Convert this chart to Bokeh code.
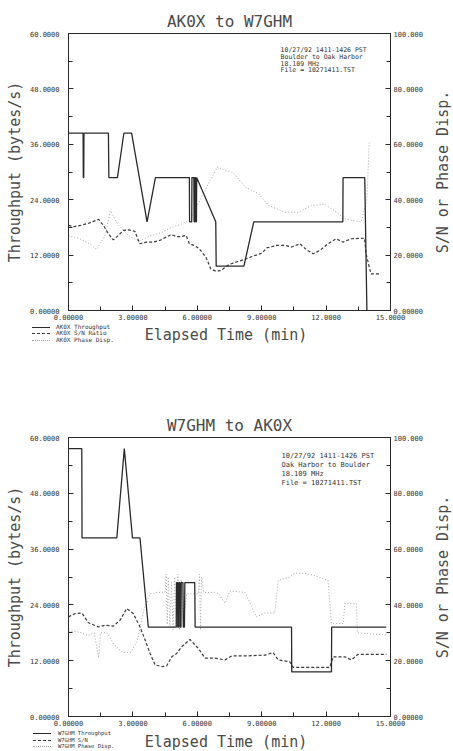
import math
from bokeh.plotting import figure
from bokeh.models import Range1d, LinearAxis, FixedTicker, ColumnDataSource, Div
from bokeh.layouts import column, row
from bokeh.embed import file_html
from bokeh.resources import INLINE
from bokeh.core.properties import value

# ---------------- data ----------------
x_ticks = [0, 3, 6, 9, 12, 15]
x_minor = [1.5, 4.5, 7.5, 10.5, 13.5]
x_labels = ["0.00000", "3.00000", "6.00000", "9.00000", "12.0000", "15.0000"]
left_ticks = [0, 12, 24, 36, 48, 60]
left_minor = [6, 18, 30, 42, 54]
left_labels = ["0.00000", "12.0000", "24.0000", "36.0000", "48.0000", "60.0000"]
right_ticks = [0, 20, 40, 60, 80, 100]
right_minor = [10, 30, 50, 70, 90]
right_labels = ["0.00000", "20.0000", "40.0000", "60.0000", "80.0000", "100.000"]
x_title = "Elapsed Time (min)"
left_title = "Throughput (bytes/s)"
right_title = "S/N or Phase Disp."

# Top chart: AK0X to W7GHM
top_title = "AK0X to W7GHM"
top_thr_t = [0.0, 0.68, 0.69, 0.71, 0.72, 1.86, 1.88, 2.28, 2.58, 2.94, 3.66, 4.05,
             5.63, 5.64, 5.74, 5.75, 5.84, 5.85, 5.87, 5.88, 5.92, 5.93, 5.96, 5.97,
             6.86, 6.88, 8.17, 8.63, 12.78, 12.79, 13.80, 13.90]
top_thr_v = [38.4, 38.4, 28.8, 28.8, 38.4, 38.4, 28.8, 28.8, 38.4, 38.4, 19.2, 28.8,
             28.8, 19.2, 19.2, 28.8, 28.8, 19.2, 19.2, 28.8, 28.8, 19.2, 19.2, 28.8,
             19.2, 9.6, 9.6, 19.2, 19.2, 28.8, 28.8, 0.0]
top_sn_t = [0.0, 0.25, 0.55, 0.94, 1.40, 1.63, 1.86, 2.09, 2.32, 2.55, 2.78, 3.09, 3.32,
            3.63, 3.94, 4.25, 4.55, 4.79, 5.02, 5.25, 5.48, 5.63, 5.86, 6.09, 6.40, 6.63,
            6.86, 7.09, 7.48, 7.94, 8.25, 8.55, 9.01, 9.24, 9.70, 10.09, 10.39, 10.78,
            11.09, 11.40, 11.71, 12.09, 12.47, 12.78, 13.17, 13.79, 13.86, 14.09, 14.48]
top_sn_v = [30.7, 30.3, 30.7, 31.5, 32.9, 30.7, 27.7, 25.5, 27.1, 28.9, 29.1, 28.6, 24.1,
            24.7, 24.7, 25.3, 26.5, 27.4, 26.7, 26.7, 27.1, 24.1, 23.5, 22.3, 19.3, 15.0,
            14.2, 14.4, 16.6, 17.8, 18.6, 19.5, 20.7, 22.6, 23.5, 23.5, 22.9, 24.1,
            21.9, 20.5, 21.7, 24.1, 25.9, 24.7, 25.9, 26.1, 20.5, 13.2, 13.2]
top_ph_t = [0.0, 0.5, 1.0, 1.3, 1.7, 1.95, 2.3, 2.8, 3.3, 3.8, 4.3, 4.8, 5.2, 5.7, 6.2,
            6.6, 6.94, 7.3, 7.65, 8.25, 8.86, 9.32, 10.09, 10.71, 11.32, 11.94, 12.4,
            12.86, 13.63, 13.9, 14.01]
top_ph_v = [27, 26, 24, 22, 27, 36, 31, 27, 25, 27, 28, 30, 31, 33, 41,
            47, 51.7, 50.5, 49.9, 44.5, 42.1, 37.9, 35.5, 35.5, 37.9, 38.3, 36,
            33.1, 31.9, 40, 61]
top_legend = ["AK0X Throughput", "AK0X S/N Ratio", "AK0X Phase Disp."]
top_note = ["10/27/92 1411-1426 PST", "Boulder to Oak Harbor", "18.109 MHz",
            "File = 10271411.TST"]

# Bottom chart: W7GHM to AK0X
bot_title = "W7GHM to AK0X"
bot_thr_t = [0.0, 0.62, 0.63, 2.25, 2.60, 2.98, 3.33, 3.72, 5.02, 5.03, 5.08, 5.09,
             5.13, 5.14, 5.19, 5.20, 5.24, 5.25, 5.33, 5.35, 5.40, 5.42, 5.88, 5.90,
             10.39, 10.40, 12.25, 12.26, 14.8]
bot_thr_v = [57.6, 57.6, 38.4, 38.4, 57.6, 38.4, 38.4, 19.2, 19.2, 28.8, 28.8, 19.2,
             19.2, 28.8, 28.8, 19.2, 19.2, 28.8, 28.8, 19.2, 19.2, 28.8, 28.8, 19.2,
             19.2, 9.6, 9.6, 19.2, 19.2]
bot_sn_t = [0.0, 0.31, 0.62, 0.93, 1.40, 1.71, 2.09, 2.40, 2.71, 3.02, 3.33, 3.57, 3.80,
            4.03, 4.34, 4.57, 4.81, 5.04, 5.27, 5.66, 6.05, 6.36, 6.82, 7.29, 7.60, 8.22,
            9.15, 9.53, 9.77, 10.31, 10.47, 12.17, 12.33, 12.87, 13.18, 13.49, 14.81]
bot_sn_v = [35.7, 36.9, 37.1, 33.6, 32.1, 32.7, 32.4, 34.5, 38.7, 36.9, 32.1, 27.4, 22.6,
            18.5, 17.9, 18.1, 21.4, 22.6, 25.0, 27.6, 24.4, 20.9, 20.9, 20.3, 21.7, 21.7,
            22.0, 22.9, 20.3, 19.6, 17.6, 17.6, 21.4, 21.4, 20.3, 22.3, 22.3]
bot_ph_t = [0.0, 0.3, 0.6, 0.9, 1.2, 1.4, 1.5, 1.8, 2.1, 2.5, 2.9, 3.2, 3.5, 3.8, 4.2,
            4.5, 4.55, 4.6, 4.65, 4.72, 4.8, 4.87, 4.95, 5.02, 5.1, 5.17, 5.25, 5.35,
            5.5, 5.8, 6.05, 6.1, 6.15, 6.2, 6.3, 6.8, 7.0, 7.29, 7.52, 8.22, 8.76, 9.15,
            9.61, 9.77, 10.31, 10.54, 11.01, 11.47, 12.09, 12.25, 12.8, 12.87, 13.41,
            13.46, 14.81]
bot_ph_v = [30.5, 30.5, 30.0, 29.0, 30.0, 21.0, 30.0, 30.0, 26.0, 23.0, 23.0, 27.0, 38.0,
            44.0, 44.5, 44.5, 51.0, 33.0, 50.0, 32.0, 48.0, 31.0, 50.0, 32.0, 51.0, 31.0,
            49.0, 33.0, 44.0, 44.0, 44.0, 51.0, 31.0, 50.0, 44.5, 44.5, 44.0, 40.5, 45.0,
            44.5, 35.7, 37.1, 37.1, 48.8, 50.0, 51.4, 51.3, 50.5, 48.8, 33.3, 33.3, 40.5,
            40.5, 30.0, 29.2]
bot_legend = ["W7GHM Throughput", "W7GHM S/N", "W7GHM Phase Disp."]
bot_note = ["10/27/92 1411-1426 PST", "Oak Harbor to Boulder", "18.109 MHz",
            "File = 10271411.TST"]

MONO = "DejaVu Sans Mono"
INK = "#2a2a2a"
TXT = "#4a4a4a"
W = 452          # total width of each block
PW = 426         # main plot width (frame 68..393)
SIDE = W - PW    # strip carrying the right-hand axis title

STY_THR = dict(line_color=INK, line_width=1.3)
STY_SN = dict(line_color="#3a3a3a", line_width=1.2, line_dash="3 2")
STY_PH = dict(line_color="#a8a8a8", line_width=1, line_dash="1 2")
CSS_KEY = ["1.3px solid #2a2a2a", "1.2px dashed #3a3a3a", "1px dotted #a0a0a0"]


def style_axis(ax, ticks, minor, labels):
    ax.ticker = FixedTicker(ticks=ticks, minor_ticks=minor)
    ax.major_label_overrides = {float(t): l for t, l in zip(ticks, labels)}
    ax.major_tick_in = 5
    ax.major_tick_out = 0
    ax.minor_tick_in = 4
    ax.minor_tick_out = 0
    ax.axis_line_color = INK
    ax.major_tick_line_color = INK
    ax.minor_tick_line_color = INK
    ax.major_label_text_font = MONO
    ax.major_label_text_font_size = "7px"
    ax.major_label_text_color = "#333333"
    ax.axis_label_text_font = MONO
    ax.axis_label_text_font_size = "15px"
    ax.axis_label_text_font_style = "normal"
    ax.axis_label_text_color = TXT


def make_panel(title, thr_t, thr_v, sn_t, sn_v, ph_t, ph_v, note,
               b_top, frame_h, b_bottom, title_standoff, note_x, note_y, note_dy, note_size):
    height = b_top + frame_h + b_bottom
    p = figure(width=PW, height=height, output_backend="svg", toolbar_location=None,
               x_range=Range1d(0, 15), y_range=Range1d(0, 60),
               min_border_left=68, min_border_right=33,
               min_border_top=b_top, min_border_bottom=b_bottom, title=title)
    p.extra_y_ranges = {"right": Range1d(0, 100)}
    p.grid.visible = False
    p.outline_line_color = INK

    p.title.align = "center"
    p.title.text_font = MONO
    p.title.text_font_size = "16px"
    p.title.text_font_style = "normal"
    p.title.text_color = TXT
    p.title.standoff = title_standoff

    style_axis(p.xaxis[0], x_ticks, x_minor, x_labels)
    p.xaxis[0].major_label_standoff = 3

    style_axis(p.yaxis[0], left_ticks, left_minor, left_labels)
    p.yaxis[0].axis_label = left_title
    p.yaxis[0].major_label_standoff = 9
    p.yaxis[0].axis_label_standoff = 3

    right = LinearAxis(y_range_name="right")
    style_axis(right, right_ticks, right_minor, right_labels)
    right.major_label_standoff = 3
    p.add_layout(right, "right")

    p.line(ph_t, ph_v, y_range_name="right", **STY_PH)
    p.line(sn_t, sn_v, y_range_name="right", **STY_SN)
    p.line(thr_t, thr_v, **STY_THR)

    src = ColumnDataSource(dict(x=[note_x] * len(note),
                                y=[note_y - i * note_dy for i in range(len(note))],
                                t=note))
    p.text(x="x", y="y", text="t", source=src, text_font=value(MONO),
           text_font_size=note_size, text_color="#333333", text_baseline="middle",
           text_align="left")

    # right-hand axis title, reading bottom to top, centred on the frame
    s = figure(width=SIDE, height=height, output_backend="svg", toolbar_location=None,
               x_range=Range1d(0, 1), y_range=Range1d(0, 1),
               x_axis_location=None, y_axis_location=None,
               min_border_left=0, min_border_right=0,
               min_border_top=b_top, min_border_bottom=b_bottom)
    s.grid.visible = False
    s.outline_line_color = None
    s.text(x=[0.62], y=[0.5], text=[right_title], angle=math.pi / 2,
           text_font=value(MONO), text_font_size="15px", text_color=TXT,
           text_align="center", text_baseline="middle")
    return row(p, s, spacing=0)


def make_footer(height, labels, key_left, text_left, row_tops, font, title_mid):
    parts = []
    for lab, css, cy in zip(labels, CSS_KEY, row_tops):
        parts.append(
            f'<div style="position:absolute;left:{key_left}px;top:{cy}px;width:18px;'
            f'height:0;border-top:{css};"></div>')
        parts.append(
            f'<div style="position:absolute;left:{text_left}px;top:{cy - 3}px;'
            f'font-size:{font};line-height:6px;color:#333;white-space:nowrap;">{lab}</div>')
    parts.append(
        f'<div style="position:absolute;left:106px;width:240px;top:{title_mid - 9}px;'
        f'text-align:center;font-size:15px;line-height:18px;color:{TXT};'
        f'white-space:nowrap;">{x_title}</div>')
    html = (f'<div style="position:relative;width:{W}px;height:{height}px;'
            f"font-family:'{MONO}',monospace;overflow:hidden;\">" + "".join(parts) + "</div>")
    return Div(text=html, width=W, height=height, margin=0)


blk1 = make_panel(top_title, top_thr_t, top_thr_v, top_sn_t, top_sn_v, top_ph_t, top_ph_v,
                  top_note, 33, 277, 12, 5, 9.88, 56.5, 1.5, "6.5px")
f1 = make_footer(46, top_legend, 32, 56, [5, 11, 18], "6px", 13)
blk2 = make_panel(bot_title, bot_thr_t, bot_thr_v, bot_sn_t, bot_sn_v, bot_ph_t, bot_ph_v,
                  bot_note, 69, 280, 11, 6, 9.92, 56.1, 1.95, "7px")
f2 = make_footer(22, bot_legend, 33, 58, [5, 12, 18], "5.5px", 14)

layout = column(blk1, f1, blk2, f2, spacing=0)
open("out.html", "w").write(file_html(layout, INLINE))
